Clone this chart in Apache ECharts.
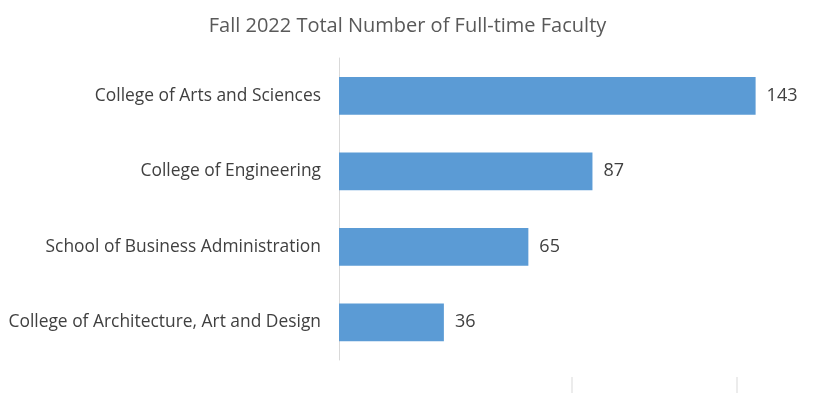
<!DOCTYPE html>
<html><head><meta charset="utf-8">
<script src="https://cdn.jsdelivr.net/npm/echarts@6/dist/echarts.min.js"></script>
<style>html,body{margin:0;padding:0;background:#fff}#c{width:815px;height:393px}</style>
</head><body><div id="c"></div>
<script>
var categories = ["College of Arts and Sciences","College of Engineering","School of Business Administration","College of Architecture, Art and Design"];
var values = [143, 87, 65, 36];
var titleText = "Fall 2022 Total Number of Full-time Faculty";
var chart = echarts.init(document.getElementById('c'));
var FONT = "'Open Sans', sans-serif";
chart.setOption({
  animation: false,
  backgroundColor: '#fff',
  title: { text: titleText, left: 'center', top: 11,
    textStyle: { fontFamily: FONT, fontSize: 20, fontWeight: 'normal', color: '#595959' } },
  grid: { left: 339, top: 58, width: 437, height: 302, containLabel: false },
  xAxis: { type: 'value', min: 0, max: 150, show: false },
  yAxis: { type: 'category', data: categories, inverse: true,
    axisLine: { show: true, lineStyle: { color: '#d9d9d9', width: 1 } },
    axisTick: { show: false },
    axisLabel: { fontFamily: FONT, fontSize: 17.4, color: '#404040', margin: 18 } },
  series: [{ type: 'bar', data: values, barWidth: '50%',
    itemStyle: { color: '#5b9bd5' },
    label: { show: true, position: 'right', distance: 11, fontFamily: FONT, fontSize: 18, color: '#404040' } }],
  graphic: [
    { type: 'line', shape: { x1: 572, y1: 377, x2: 572, y2: 393 }, style: { stroke: '#d9d9d9', lineWidth: 1 } },
    { type: 'line', shape: { x1: 737, y1: 377, x2: 737, y2: 393 }, style: { stroke: '#d9d9d9', lineWidth: 1 } }
  ]
});
</script></body></html>
